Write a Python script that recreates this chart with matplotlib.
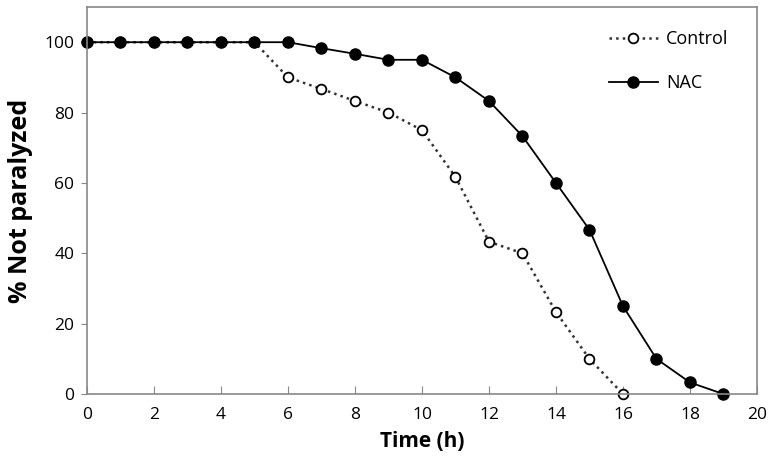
import matplotlib
matplotlib.use("Agg")
import matplotlib.pyplot as plt

time_h = list(range(0, 20))
control_t = time_h[:17]
control = [100, 100, 100, 100, 100, 100, 90, 86.7, 83.3, 80, 75, 61.7, 43.3, 40, 23.3, 10, 0]
nac = [100, 100, 100, 100, 100, 100, 100, 98.3, 96.7, 95, 95, 90, 83.3, 73.3, 60, 46.7, 25, 10, 3.3, 0]
x_ticks = list(range(0, 21, 2))
y_ticks = list(range(0, 101, 20))

plt.rcParams['font.family'] = ['Open Sans', 'DejaVu Sans']

fig = plt.figure(figsize=(7.74, 4.68), dpi=100)
ax = fig.add_axes([0.1124, 0.158, 0.8656, 0.827])

ax.plot(control_t, control, linestyle=':', color='#333333', linewidth=1.8,
        marker='o', markersize=7, markerfacecolor='white', markeredgecolor='black',
        markeredgewidth=1.3, label='Control', clip_on=False)
ax.plot(time_h, nac, linestyle='-', color='black', linewidth=1.3,
        marker='o', markersize=8, markerfacecolor='black', markeredgecolor='black',
        label='NAC', clip_on=False)

ax.set_xlim(0, 20)
ax.set_ylim(0, 110)
ax.set_xticks(x_ticks)
ax.set_yticks(y_ticks)
ax.tick_params(axis='x', direction='in', length=6, color='#888888', labelsize=12.5, pad=9)
ax.tick_params(axis='y', direction='out', length=4, color='#888888', labelsize=12.5, pad=5)
for s in ax.spines.values():
    s.set_color('#888888')
    s.set_linewidth(1.2)

ax.set_xlabel('Time (h)', fontsize=15, fontweight='bold', labelpad=6)
ax.set_ylabel('% Not paralyzed', fontsize=18, fontweight='bold', labelpad=8)

ax.legend(loc='upper left', frameon=False, fontsize=13, handlelength=2.7,
          handletextpad=0.45, borderpad=0, borderaxespad=0,
          bbox_to_anchor=(0.779, 0.94), labelspacing=1.45)

fig.savefig('out.png', dpi=100)
